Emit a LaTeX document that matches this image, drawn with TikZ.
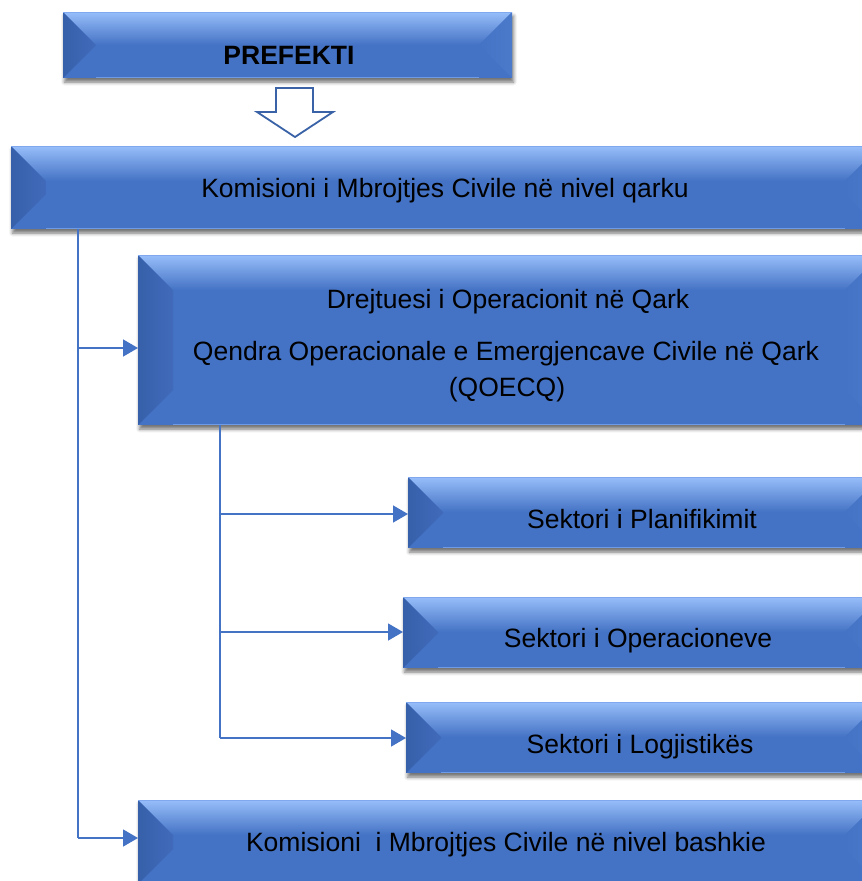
\documentclass[tikz,border=0pt]{standalone}
\usepackage{fontspec}
\setmainfont{Liberation Sans}
\usetikzlibrary{arrows.meta,shadows.blur}

\definecolor{boxblue}{HTML}{4472C4}
\definecolor{bevtop}{HTML}{97BEFA}
\definecolor{bevleft}{HTML}{3760AA}
\definecolor{bevleftin}{HTML}{416BBA}
\definecolor{bevright}{HTML}{4B7ACB}
\definecolor{bevbot}{HTML}{6F9BE6}
\definecolor{boxedge}{HTML}{7FA8EE}
\definecolor{linkblue}{HTML}{4472C4}
\definecolor{arrowedge}{HTML}{3A62A6}

\tikzset{
  boxbase/.style={rectangle, inner sep=0pt, outer sep=0pt, fill=boxblue,
    blur shadow={shadow xshift=1.5pt, shadow yshift=-4pt,
      shadow blur radius=3.5pt, shadow opacity=55}},
  boxtext/.style={anchor=base, inner sep=0pt, text=black,
    font=\fontsize{26.5}{32}\selectfont},
  link/.style={draw=linkblue, line width=1.5pt},
  linkarrow/.style={link, -{Triangle[length=15pt,width=17pt]}},
}

% bevelled box: name, left, top, right, bottom, bevel depth
\newcommand\bevelbox[6]{%
  \node[boxbase, minimum width={#4-#2}, minimum height={#5-#3}]
    (#1) at ({(#2+#4)/2},{(#3+#5)/2}) {};
  % upper facet, light gradient
  \shade[top color=bevtop, bottom color=boxblue]
    (#2,#3) -- (#4,#3) -- ({#4-#6},{#3+#6}) -- ({#2+#6},{#3+#6}) -- cycle;
  % left facet, darker
  \shade[left color=bevleft, right color=bevleftin]
    (#2,#3) -- ({#2+#6},{#3+#6}) -- ({#2+#6},{#5-#6}) -- (#2,#5) -- cycle;
  % right facet
  \shade[left color=boxblue, right color=bevright]
    (#4,#3) -- ({#4-#6},{#3+#6}) -- ({#4-#6},{#5-#6}) -- (#4,#5) -- cycle;
  % thin light rims
  \draw[boxedge, line width=0.8pt] (#2,{#3+0.4}) -- (#4,{#3+0.4});
  \draw[bevbot, line width=1.2pt] ({#2+#6},{#5-0.8}) -- ({#4-#6},{#5-0.8});
}

\begin{document}
\begin{tikzpicture}[x=1pt,y=-1pt]
  \useasboundingbox (0,0) rectangle (862,881);
  \clip (0,0) rectangle (862,881);

  % boxes
  \bevelbox{pref}{63}{12}{512}{78}{33}
  \bevelbox{kq}{11}{146}{880}{229}{35}
  \bevelbox{qoecq}{138}{255}{880}{425}{35}
  \bevelbox{plan}{408}{477}{880}{548}{35}
  \bevelbox{oper}{403}{597}{880}{668}{35}
  \bevelbox{logj}{406}{702}{880}{773}{35}
  \bevelbox{bash}{138}{800}{880}{884}{35}

  % texts
  \node[boxtext, font=\fontsize{26.5}{32}\selectfont\bfseries] (prefT) at (289,64) {PREFEKTI};
  \node[boxtext] (kqT) at (445,197) {Komisioni i Mbrojtjes Civile në nivel qarku};
  \node[boxtext] (qoecqA) at (508,308) {Drejtuesi i Operacionit në Qark};
  \node[boxtext] (qoecqB) at (506,360) {Qendra Operacionale e Emergjencave Civile në Qark};
  \node[boxtext] (qoecqC) at (507,396) {(QOECQ)};
  \node[boxtext] (planT) at (642,528) {Sektori i Planifikimit};
  \node[boxtext] (operT) at (638,647) {Sektori i Operacioneve};
  \node[boxtext] (logjT) at (640,753) {Sektori i Logjistikës};
  \node[boxtext] (bashT) at (506,851) {Komisioni\ \ i Mbrojtjes Civile në nivel bashkie};

  % hollow block arrow below the prefect
  \filldraw[fill=white, draw=arrowedge, line width=1.8pt, line join=miter]
    (276,88) -- (313,88) -- (313,112) -- (333,112) -- (295,137)
    -- (257,112) -- (276,112) -- cycle;

  % trunk from the county commission
  \coordinate (j1) at (78,348);
  \coordinate (j2) at (78,838);
  \draw[link] (kq.south -| j1) -- (j2);
  \draw[linkarrow] (j1) -- (j1 -| qoecq.west);
  \draw[linkarrow] (j2) -- (j2 -| bash.west);

  % trunk from the operations centre
  \coordinate (s1) at (220,514);
  \coordinate (s2) at (220,632);
  \coordinate (s3) at (220,738);
  \draw[link] (qoecq.south -| s1) -- (s3);
  \draw[linkarrow] (s1) -- (s1 -| plan.west);
  \draw[linkarrow] (s2) -- (s2 -| oper.west);
  \draw[linkarrow] (s3) -- (s3 -| logj.west);
\end{tikzpicture}
\end{document}
